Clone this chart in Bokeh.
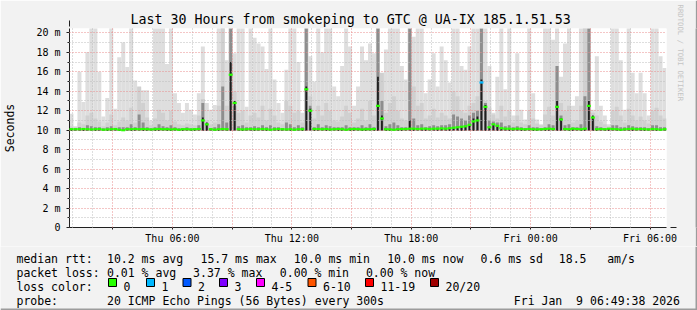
from bokeh.plotting import figure
from bokeh.layouts import column, row
from bokeh.models import FixedTicker, Arrow, NormalHead, ColumnDataSource, Title
from bokeh.core.properties import value
from bokeh.embed import file_html
from bokeh.resources import INLINE

FONT = "DejaVu Sans Mono"
NB = "\u00a0"   # keeps runs of spaces in SVG text

# ---------------- data ----------------
title_text = "Last 30 Hours from smokeping to GTC @ UA-IX 185.1.51.53"
t_start = 49 / 60 + 38 / 3600      # Thu 00:49:38, hours since Thu 00:00
span_hours = 30
step_h = 0.2                         # one column = 12 minutes

# top of the outer (lightest) smoke, ms
hi = [11.7, 10.4, 16.0, 12.9, 18.0, 20.5, 20.5, 16.0, 11.4, 13.3,
      20.5, 12.2, 17.5, 19.0, 16.5, 20.5, 15.1, 14.4, 14.1, 14.1,
      11.0, 20.5, 20.5, 20.5, 16.8, 20.5, 13.8, 12.8, 11.8, 12.8,
      12.1, 11.6, 13.8, 18.6, 12.8, 12.1, 12.6, 20.5, 20.5, 17.2,
      20.5, 17.9, 20.5, 20.5, 12.4, 20.5, 19.5, 18.9, 18.6, 16.3,
      20.5, 15.2, 12.8, 11.8, 16.2, 20.5, 20.5, 17.0, 11.8, 20.5,
      17.6, 15.0, 20.5, 18.0, 20.5, 20.5, 14.5, 13.5, 16.6, 20.5,
      18.6, 12.5, 14.5, 18.6, 17.2, 18.9, 17.9, 20.5, 14.9, 18.3,
      20.5, 20.5, 20.5, 16.6, 15.2, 20.5, 19.6, 20.5, 20.5, 13.8,
      15.2, 17.9, 14.5, 18.6, 17.2, 14.9, 20.5, 20.5, 16.6, 16.2,
      18.6, 20.5, 20.5, 20.5, 20.5, 16.6, 11.8, 15.5, 20.5, 14.2,
      20.5, 11.5, 17.9, 12.1, 11.1, 20.5, 13.8, 11.1, 10.6, 20.5,
      20.5, 19.3, 20.5, 15.5, 18.9, 20.5, 12.5, 13.5, 20.5, 20.5,
      20.5, 12.1, 17.6, 12.5, 11.5, 10.6, 20.5, 20.5, 17.2, 12.1,
      20.5, 15.9, 13.8, 15.9, 13.8, 11.5, 20.5, 20.5, 17.6, 16.4]

# top of the middle smoke band, ms
mid = [10.4, 10.3, 10.8, 10.6, 11.5, 11.8, 11.2, 10.9, 10.4, 10.8,
       11.6, 10.5, 10.9, 11.3, 11.0, 12.3, 10.8, 14.5, 12.8, 11.3,
       10.5, 11.2, 12.1, 11.8, 11.0, 12.0, 10.9, 10.6, 10.5, 10.7,
       10.6, 10.5, 11.5, 13.2, 11.0, 10.6, 10.8, 12.5, 20.5, 12.5,
       20.5, 14.0, 11.8, 12.0, 10.8, 11.5, 11.8, 11.3, 12.5, 11.0,
       12.2, 11.5, 10.8, 10.6, 13.0, 12.5, 11.8, 12.0, 10.8, 20.5,
       13.5, 11.2, 12.5, 11.5, 12.8, 12.0, 11.0, 10.9, 11.4, 12.5,
       11.8, 10.8, 11.2, 12.2, 11.0, 13.0, 11.5, 20.5, 15.9, 11.8,
       12.8, 13.5, 12.0, 11.2, 11.0, 20.5, 14.5, 12.5, 12.8, 11.2,
       11.5, 12.2, 11.3, 11.8, 11.5, 11.2, 14.0, 13.5, 12.0, 11.8,
       12.5, 12.8, 13.5, 20.5, 13.0, 12.3, 11.6, 11.2, 12.5, 11.4,
       12.0, 10.8, 11.5, 10.8, 10.6, 12.0, 11.2, 10.7, 10.5, 11.6,
       12.4, 11.5, 16.6, 12.8, 12.0, 12.5, 10.8, 11.0, 12.5, 20.5,
       20.5, 11.8, 11.5, 10.9, 10.6, 10.4, 12.0, 12.4, 11.5, 10.8,
       12.2, 11.5, 11.0, 11.4, 11.0, 10.7, 12.0, 12.3, 11.5, 11.2]

# top of the dark inner smoke band, ms
dark = [10.2, 10.2, 10.3, 10.2, 10.5, 10.4, 10.3, 10.3, 10.2, 10.3,
        10.4, 10.2, 10.3, 10.3, 10.3, 10.6, 10.3, 11.6, 10.8, 10.3,
        10.2, 10.3, 10.6, 10.4, 10.3, 10.5, 10.3, 10.2, 10.2, 10.3,
        10.2, 10.2, 10.5, 12.8, 10.6, 10.2, 10.3, 10.6, 14.5, 10.8,
        20.5, 12.5, 10.4, 10.5, 10.3, 10.3, 10.4, 10.3, 10.5, 10.3,
        10.5, 10.3, 10.3, 10.2, 10.8, 10.6, 10.3, 10.5, 10.3, 20.5,
        12.5, 10.3, 10.6, 10.3, 10.5, 10.4, 10.3, 10.3, 10.3, 10.5,
        10.3, 10.3, 10.3, 10.5, 10.3, 10.6, 10.3, 20.5, 13.0, 10.4,
        10.6, 10.8, 10.5, 10.3, 10.3, 20.5, 11.2, 10.5, 10.6, 10.3,
        10.4, 10.5, 10.4, 10.5, 10.5, 10.6, 11.6, 11.4, 11.2, 11.0,
        11.5, 11.8, 12.0, 20.5, 12.8, 11.0, 10.9, 10.8, 10.8, 10.4,
        10.5, 10.3, 10.4, 10.3, 10.2, 10.5, 10.3, 10.3, 10.2, 10.3,
        10.6, 10.5, 16.6, 11.5, 10.5, 10.6, 10.3, 10.3, 10.6, 13.5,
        20.5, 11.2, 10.4, 10.3, 10.2, 10.2, 10.5, 10.5, 10.3, 10.3,
        10.5, 10.4, 10.3, 10.3, 10.3, 10.2, 10.5, 10.5, 10.3, 10.3]

# median rtt per column, ms
median = [10.10, 10.10, 10.10, 10.12, 10.10, 10.08, 10.10, 10.12, 10.05, 10.08,
          10.10, 10.12, 10.05, 10.00, 10.10, 10.10, 10.12, 10.10, 10.12, 10.10,
          10.08, 10.10, 10.12, 10.10, 10.10, 10.08, 10.10, 10.05, 10.10, 10.10,
          10.08, 10.10, 10.12, 11.00, 10.60, 10.10, 10.05, 10.10, 10.12, 10.10,
          15.70, 12.80, 10.10, 10.08, 10.10, 10.12, 10.10, 10.10, 10.12, 10.10,
          10.05, 10.10, 10.12, 10.10, 10.08, 10.10, 10.05, 10.10, 10.10, 14.20,
          12.00, 10.12, 10.12, 10.10, 10.12, 10.08, 10.10, 10.12, 10.10, 10.05,
          10.10, 10.12, 10.10, 10.08, 10.10, 10.10, 10.12, 12.50, 11.20, 10.10,
          10.08, 10.05, 10.10, 10.12, 10.12, 10.15, 10.15, 10.12, 10.15, 10.15,
          10.12, 10.15, 10.15, 10.18, 10.15, 10.20, 10.25, 10.30, 10.35, 10.40,
          10.55, 10.90, 11.00, 14.90, 12.40, 10.30, 10.60, 10.45, 10.20, 10.15,
          10.15, 10.12, 10.15, 10.12, 10.10, 10.12, 10.10, 10.08, 10.10, 10.12,
          10.15, 10.12, 12.40, 11.10, 10.12, 10.10, 10.15, 10.12, 10.10, 10.15,
          12.50, 11.30, 10.10, 10.12, 10.10, 10.15, 10.12, 10.10, 10.05, 10.10,
          10.12, 10.15, 10.10, 10.12, 10.10, 10.08, 10.12, 10.10, 10.05, 10.10]

# densest (near-median) smoke where it climbs above the median line
core_spikes = {33: 11.3, 34: 10.8, 40: 17.0, 41: 13.0, 59: 14.5, 60: 12.2,
               77: 15.5, 78: 11.5, 85: 11.0, 101: 11.2, 102: 11.4, 103: 15.2,
               104: 12.6, 122: 13.0, 123: 11.2, 130: 13.0, 131: 11.5}

# pings lost (of 20) per column
loss = [0, 0, 0, 0, 0, 0, 0, 0, 0, 0,  0, 0, 0, 0, 0, 0, 0, 0, 0, 0,
        0, 0, 0, 0, 0, 0, 0, 0, 0, 0,  0, 0, 0, 0, 0, 0, 0, 0, 0, 0,
        0, 0, 0, 0, 0, 0, 0, 0, 0, 0,  0, 0, 0, 0, 0, 0, 0, 0, 0, 0,
        0, 0, 0, 0, 0, 0, 0, 0, 0, 0,  0, 0, 0, 0, 0, 0, 0, 0, 0, 0,
        0, 0, 0, 0, 0, 0, 0, 0, 0, 0,  0, 0, 0, 0, 0, 0, 0, 0, 0, 0,
        0, 0, 0, 1, 0, 0, 0, 0, 0, 0,  0, 0, 0, 0, 0, 0, 0, 0, 0, 0,
        0, 0, 0, 0, 0, 0, 0, 0, 0, 0,  0, 0, 0, 0, 0, 0, 0, 0, 0, 0,
        0, 0, 0, 0, 0, 0, 0, 0, 0, 0]

smoke_floor = 9.95

loss_classes = [("0", "#26ff00", 0), ("1", "#00b8ff", 1), ("2", "#0059ff", 2),
                ("3", "#7e00ff", 3), ("4-5", "#ff00ff", 5), ("6-10", "#ff5500", 10),
                ("11-19", "#ff0000", 19), ("20/20", "#a00000", 20)]

y_ticks = [0, 2, 4, 6, 8, 10, 12, 14, 16, 18, 20]
y_labels = ["0", "2 m", "4 m", "6 m", "8 m", "10 m", "12 m", "14 m", "16 m", "18 m", "20 m"]
x_ticks = [6, 12, 18, 24, 30]
x_labels = ["Thu 06:00", "Thu 12:00", "Thu 18:00", "Fri 00:00", "Fri 06:00"]

stats_rows = [
    [("median rtt:", 16), ("10.2 ms avg", 106.5), ("15.7 ms max", 200), ("10.0 ms min", 293.3),
     ("10.0 ms now", 386.7), ("0.6 ms sd", 480), ("18.5", 558.3), ("am/s", 606.7)],
    [("packet loss:", 16), ("0.01 % avg", 106.5), ("3.37 % max", 192.6), ("0.00 % min", 279.3),
     ("0.00 % now", 365.4)],
]
loss_label = "loss color:"
probe_row = [("probe:", 16), ("20 ICMP Echo Pings (56 Bytes) every 300s", 106.5),
             ("Fri Jan  9 06:49:38 2026", 513.3)]

# ---------------- layout constants (canvas px) ----------------
W, H = 697, 310
FL, FR, FT, FB = 67, 667, 28, 228     # plot frame
MAIN_H = 246                          # chart part; legend strip below
EDGE = 2                              # dark canvas edge (right / bottom)
row_base = [258.3, 272.3, 286, 300]   # legend text baselines
loss_box_x = [108, 146, 182.5, 219, 256, 307.5, 365, 430]
box_top, box_bot = 278, 286

n = len(hi)
assert len(mid) == n and len(dark) == n and len(median) == n and len(loss) == n
left = [t_start + step_h * i for i in range(n)]
right = [l + step_h for l in left]
centre = [l + step_h / 2 for l in left]
core = [core_spikes.get(i, median[i]) for i in range(n)]


def loss_color(lost):
    for _, c, upper in loss_classes:
        if lost <= upper:
            return c
    return loss_classes[-1][1]


med_color = [loss_color(v) for v in loss]

BG = "#f2f2f2"
EDGE_C = "#9c9c9c"

# ---------------- main chart ----------------
p = figure(width=W - EDGE, height=MAIN_H, output_backend="svg", toolbar_location=None,
           x_range=(t_start, t_start + span_hours), y_range=(0, 20.45),
           min_border_left=FL, min_border_right=W - EDGE - FR,
           min_border_top=FT, min_border_bottom=MAIN_H - FB)
p.background_fill_color = "white"
p.border_fill_color = BG
p.outline_line_color = None

p.title.text = title_text
p.title.text_font = FONT
p.title.text_font_size = "13.3px"
p.title.text_font_style = "normal"
p.title.text_color = "black"
p.title.align = "left"
p.title.offset = 128 - FL
p.title.standoff = 3

side = Title(text="RRDTOOL / TOBI OETIKER", text_font=FONT, text_font_size="7.3px",
             text_font_style="normal", text_color="#c4c4c4", align="left",
             standoff=18, offset=-24)
p.add_layout(side, "right")

src = ColumnDataSource(dict(left=left, right=right, centre=centre, hi=hi, mid=mid,
                            dark=dark, core=core, median=median, color=med_color))

p.quad(left="left", right="right", bottom=smoke_floor, top="hi", source=src,
       fill_color="#dedede", line_color=None)
p.quad(left="left", right="right", bottom=smoke_floor, top="mid", source=src,
       fill_color="#d0d0d0", line_color=None)
p.vbar(x="centre", width=step_h * 0.75, bottom=smoke_floor, top="dark", source=src,
       fill_color="#8e8e8e", line_color=None)
p.vbar(x="centre", width=step_h * 0.45, bottom=smoke_floor, top="core", source=src,
       fill_color="#1e1e1e", line_color=None)
med = p.segment(x0="left", x1="right", y0="median", y1="median", source=src,
                line_color="color", line_width=2.2)
med.level = "annotation"

# grids
p.xgrid.ticker = FixedTicker(ticks=[h for h in range(3, 31, 3)],
                             minor_ticks=[h for h in range(1, 31) if h % 3])
p.ygrid.ticker = FixedTicker(ticks=y_ticks, minor_ticks=list(range(1, 20, 2)))
for g in (p.xgrid, p.ygrid):
    g.grid_line_color = "#e88c8c"
    g.grid_line_dash = "1 2"
    g.grid_line_width = 1
    g.minor_grid_line_color = "#bdbdbd"
    g.minor_grid_line_dash = "1 2"
    g.level = "guide"

# axes
p.xaxis.ticker = FixedTicker(ticks=x_ticks, minor_ticks=[3, 9, 15, 21, 27])
p.xaxis.major_label_overrides = dict(zip(x_ticks, x_labels))
p.yaxis.ticker = FixedTicker(ticks=y_ticks, minor_ticks=list(range(1, 20, 2)))
p.yaxis.major_label_overrides = dict(zip(y_ticks, y_labels))
for ax in (p.xaxis[0], p.yaxis[0]):
    ax.axis_line_color = "#202020"
    ax.major_tick_line_color = "#202020"
    ax.minor_tick_line_color = "#202020"
    ax.major_tick_in = 0
    ax.minor_tick_in = 0
    ax.major_label_text_font = FONT
    ax.major_label_text_font_size = "10px"
    ax.major_label_text_color = "black"
p.xaxis.major_tick_out = 2
p.xaxis.minor_tick_out = 2
p.xaxis.major_label_standoff = 3
p.yaxis.major_tick_out = 3
p.yaxis.minor_tick_out = 2
p.yaxis.major_label_standoff = 6
p.yaxis.axis_label = "Seconds"
p.yaxis.axis_label_text_font = FONT
p.yaxis.axis_label_text_font_size = "11.5px"
p.yaxis.axis_label_text_font_style = "normal"
p.yaxis.axis_label_text_color = "black"
p.yaxis.axis_label_standoff = 16

# axis arrows and small extensions past the origin
arrow_col = "#7f1a1a"
p.add_layout(Arrow(x_start=0, y_start=FB - FT, x_end=0, y_end=FB - 21,
                   start_units="screen", end_units="screen", line_color="#202020",
                   end=NormalHead(size=6, fill_color=arrow_col, line_color=arrow_col)))
p.add_layout(Arrow(x_start=FR - FL, y_start=0, x_end=FR - FL + 7, y_end=0,
                   start_units="screen", end_units="screen", line_color="#202020",
                   end=NormalHead(size=6, fill_color=arrow_col, line_color=arrow_col)))
p.add_layout(Arrow(x_start=-4, y_start=0, x_end=0, y_end=0, end=None,
                   start_units="screen", end_units="screen", line_color="#202020"))
p.add_layout(Arrow(x_start=0, y_start=-3, x_end=0, y_end=0, end=None,
                   start_units="screen", end_units="screen", line_color="#202020"))

# ---------------- right edge of the chart part ----------------
edge = figure(width=EDGE, height=MAIN_H, output_backend="svg", toolbar_location=None,
              min_border=0, x_axis_type=None, y_axis_type=None)
edge.background_fill_color = EDGE_C
edge.border_fill_color = EDGE_C
edge.outline_line_color = None
edge.grid.visible = False

# ---------------- legend strip (pixel coordinates) ----------------
LH = H - MAIN_H
lg = figure(width=W, height=LH, output_backend="svg", toolbar_location=None,
            min_border=0, x_axis_type=None, y_axis_type=None,
            x_range=(0, W), y_range=(LH, 0))
lg.background_fill_color = BG
lg.border_fill_color = BG
lg.outline_line_color = None
lg.grid.visible = False

lg.quad(left=[0, W - EDGE], right=[W, W], top=[LH - EDGE, 0], bottom=[LH, LH],
        fill_color=EDGE_C, line_color=None)

tx, ty, tt = [], [], []
for rowdef, base in zip(stats_rows, row_base[:2]):
    for s, cx in rowdef:
        tx.append(cx); ty.append(base - MAIN_H); tt.append(s)
tx.append(16); ty.append(row_base[2] - MAIN_H); tt.append(loss_label)
for (lab, col, _), bx in zip(loss_classes, loss_box_x):
    tx.append(bx + 15); ty.append(row_base[2] - MAIN_H); tt.append(lab)
for s, cx in probe_row:
    tx.append(cx); ty.append(row_base[3] - MAIN_H); tt.append(s)
tt = [s.replace("  ", NB + NB) for s in tt]

lg.text(x=tx, y=ty, text=tt, text_font=value(FONT), text_font_size="11.5px",
        text_baseline="alphabetic", text_align="left", text_color="black")
lg.quad(left=loss_box_x, right=[b + 8 for b in loss_box_x],
        top=[box_top - MAIN_H] * len(loss_box_x), bottom=[box_bot - MAIN_H] * len(loss_box_x),
        fill_color=[c for _, c, _ in loss_classes], line_color="black", line_width=1)

layout = column(row(p, edge, spacing=0), lg, spacing=0)
open("out.html", "w").write(file_html(layout, INLINE))
